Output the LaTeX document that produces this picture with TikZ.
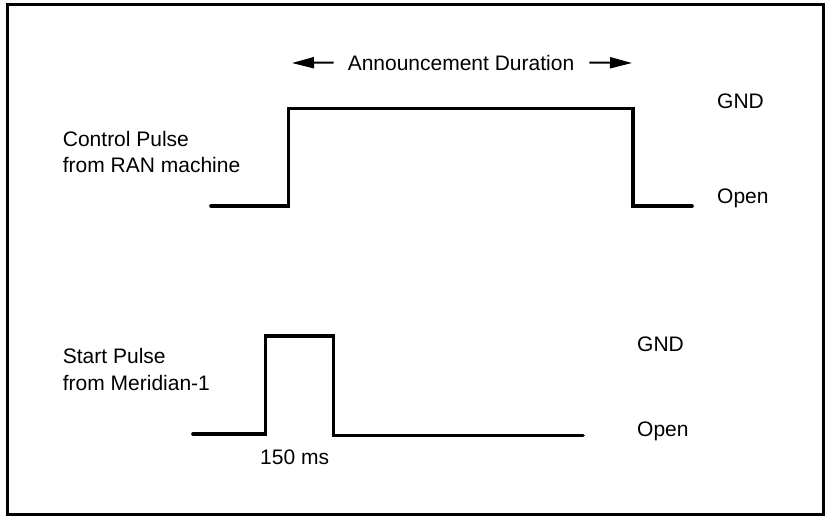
\documentclass[tikz,border=0pt]{standalone}
\usepackage{fontspec}
\setmainfont{Liberation Sans}
\usetikzlibrary{arrows.meta}
\begin{document}
\begin{tikzpicture}[x=1pt,y=-1pt,
  lbl/.style={font=\fontsize{21}{26.3}\selectfont, inner sep=0pt, align=left, anchor=base west},
  sig/.style={line width=3.6pt, line cap=round, line join=miter},
  dur/.style={line width=2pt, -{Triangle[length=22pt,width=11pt]}}]
\useasboundingbox (0,0) rectangle (827,515);
\draw[line width=3pt] (7.5,4.5) rectangle (823.5,514);
% top signal
\node[lbl, anchor=base] (title) at (461,70) {Announcement Duration};
\coordinate (dl) at (292,63);
\coordinate (dr) at (632,63);
\draw[dur] ([xshift=-14pt]title.west) -- (dl);
\draw[dur] ([xshift=15pt]title.east) -- (dr);
\node[lbl] (ctl) at (62.7,172.5) {Control Pulse\\from RAN machine};
\draw[sig] (211,206) -- (288.5,206) -- (288.5,108.5) -- (633,108.5) -- (633,206) -- (692,206);
\node[lbl] (gnd1) at (717,108.4) {GND};
\node[lbl] (open1) at (717,203.5) {Open};
% bottom signal
\node[lbl] (start) at (62.7,390) {Start Pulse\\from Meridian-1};
\draw[sig] (193,434) -- (265.3,434) -- (265.3,336) -- (333.5,336) -- (333.5,435.5) -- (583,435.5);
\node[lbl] (gnd2) at (637,351) {GND};
\node[lbl] (open2) at (637,436.5) {Open};
\node[lbl] (ms) at (260,464.3) {150 ms};
\end{tikzpicture}
\end{document}
